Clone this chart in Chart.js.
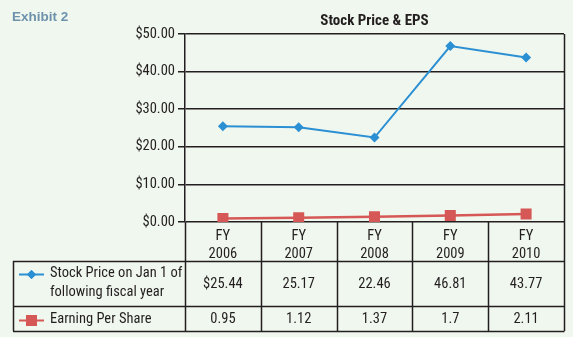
<!DOCTYPE html>
<html>
<head>
<meta charset="utf-8">
<script src="https://cdn.jsdelivr.net/npm/chart.js@4.4.1/dist/chart.umd.min.js"></script>
<style>
  html, body { margin: 0; padding: 0; background: #f0f7ee; }
  #wrap { position: relative; width: 573px; height: 337px; }
</style>
</head>
<body>
<div id="wrap"><canvas id="myChart" width="573" height="337"></canvas></div>
<script>
// values
var years = ['2006', '2007', '2008', '2009', '2010'];
var stockPrice = [25.44, 25.17, 22.46, 46.81, 43.77];
var eps = [0.95, 1.12, 1.37, 1.7, 2.11];
var seriesNames = [['Stock Price on Jan 1 of', 'following fiscal year'], ['Earning Per Share']];
var yMax = 50;
var yStep = 10;

var blue = '#2b8fd3';
var red = '#d65856';
var ink = '#231f20';
var narrow = '"Roboto Condensed", "Liberation Sans", sans-serif';

// table under the plot: header row is the x axis, then one row per series
var headerH = 39;
var rowH = [45, 25];
var tableLeft = 13;

var tablePlugin = {
    id: 'dataTable',
    afterDraw: function(chart) {
        var ctx = chart.ctx;
        var area = chart.chartArea;
        var x = chart.scales.x;
        var colW = x.getPixelForValue(1) - x.getPixelForValue(0);
        var top = area.bottom + headerH;
        var rowTop = [top, top + rowH[0]];
        var bottom = top + rowH[0] + rowH[1];

        ctx.save();
        ctx.strokeStyle = ink;
        ctx.lineWidth = 1.5;
        ctx.beginPath();
        // column dividers
        for (var i = 0; i <= years.length; i++) {
            var bx = Math.round(x.getPixelForValue(0) - colW / 2 + i * colW) + 0.5;
            ctx.moveTo(bx, i == years.length ? area.top : area.bottom);
            ctx.lineTo(bx, bottom);
        }
        // row lines
        [top, top + rowH[0], bottom].forEach(function(yy) {
            ctx.moveTo(tableLeft, Math.round(yy) + 0.5);
            ctx.lineTo(area.right + 0.5, Math.round(yy) + 0.5);
        });
        ctx.moveTo(tableLeft + 0.5, top);
        ctx.lineTo(tableLeft + 0.5, bottom);
        ctx.stroke();

        // values
        ctx.fillStyle = ink;
        ctx.font = '14.5px ' + narrow;
        ctx.textAlign = 'center';
        ctx.textBaseline = 'middle';
        var rows = [stockPrice, eps];
        rows.forEach(function(vals, r) {
            var cy = rowTop[r] + rowH[r] / 2 + 1;
            vals.forEach(function(v, i) {
                var txt = (r == 0 && i == 0 ? '$' : '') + v.toString();
                ctx.fillText(txt, x.getPixelForValue(i), cy);
            });
        });

        // series names with legend keys
        ctx.textAlign = 'left';
        seriesNames.forEach(function(lines, r) {
            var cy0 = r == 0 ? rowTop[0] + 12.5 : rowTop[1] + rowH[1] / 2 + 1;
            lines.forEach(function(t, k) {
                ctx.fillText(t, 50, cy0 + k * 19);
            });
            var ky = Math.round(cy0) + 0.5;
            ctx.strokeStyle = r == 0 ? blue : red;
            ctx.lineWidth = 2;
            ctx.beginPath();
            ctx.moveTo(19, ky);
            ctx.lineTo(44, ky);
            ctx.stroke();
            ctx.fillStyle = r == 0 ? blue : red;
            if (r == 0) {
                Chart.helpers.drawPoint(ctx, { pointStyle: 'rectRot', radius: 4.5, borderWidth: 0 }, 31.5, ky);
                ctx.fill();
            } else {
                ctx.fillRect(26, ky - 5.5, 11, 11);
            }
            ctx.fillStyle = ink;
        });

        // headings
        ctx.fillStyle = '#6e92ac';
        ctx.font = 'bold 13.5px "Liberation Sans", sans-serif';
        ctx.textBaseline = 'alphabetic';
        ctx.fillText('Exhibit 2', 12, 21);
        ctx.fillStyle = ink;
        ctx.font = 'bold 15px ' + narrow;
        ctx.textAlign = 'center';
        ctx.fillText('Stock Price & EPS', (area.left + area.right) / 2, 25);
        ctx.restore();
    }
};

var myChart = document.getElementById('myChart').getContext('2d');

var allChart = new Chart(myChart, {
    type: 'line',
    data: {
        labels: years.map(function(y) { return ['FY', y]; }),
        datasets: [{
            label: 'Stock Price on Jan 1 of following fiscal year',
            data: stockPrice,
            borderColor: blue,
            backgroundColor: blue,
            borderWidth: 2,
            pointStyle: 'rectRot',
            pointRadius: 5,
            pointBorderWidth: 0,
            tension: 0
        }, {
            label: 'Earning Per Share',
            data: eps,
            borderColor: red,
            backgroundColor: red,
            borderWidth: 2.5,
            pointStyle: 'rect',
            pointRadius: 7.8,
            pointBorderWidth: 0,
            tension: 0
        }]
    },
    options: {
        responsive: false,
        animation: false,
        layout: {
            padding: { top: 34, left: 0, right: 9, bottom: 76 }
        },
        plugins: {
            legend: { display: false },
            title: { display: false },
            tooltip: { enabled: false }
        },
        scales: {
            x: {
                offset: true,
                grid: { display: false },
                border: { display: false },
                ticks: {
                    color: ink,
                    font: { family: narrow, size: 14.5, lineHeight: 1.2 },
                    padding: -2,
                    maxRotation: 0
                },
                afterFit: function(scale) { scale.height = headerH; }
            },
            y: {
                min: 0,
                max: yMax,
                ticks: {
                    stepSize: yStep,
                    color: ink,
                    font: { family: narrow, size: 14.5 },
                    padding: 3,
                    callback: function(v) { return '$' + v.toFixed(2); }
                },
                grid: {
                    color: ink,
                    lineWidth: 1.5,
                    tickLength: 7
                },
                border: { color: ink, width: 1.5 },
                afterFit: function(scale) { scale.width = 185; }
            }
        }
    },
    plugins: [tablePlugin]
});
</script>
</body>
</html>
